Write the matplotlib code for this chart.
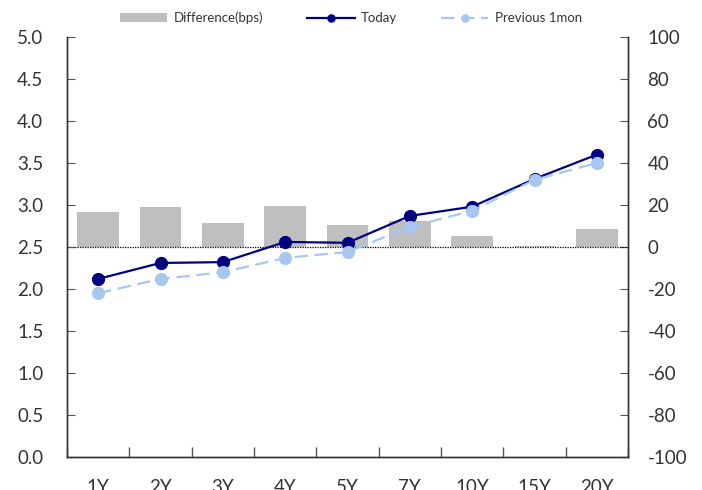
import numpy as np
import matplotlib
matplotlib.use("Agg")
import matplotlib.pyplot as plt

plt.rcParams["font.family"] = ["Lato", "DejaVu Sans"]
plt.rcParams["axes.unicode_minus"] = False

tenors = ["1Y", "2Y", "3Y", "4Y", "5Y", "7Y", "10Y", "15Y", "20Y"]
today = [2.12, 2.31, 2.32, 2.56, 2.55, 2.87, 2.98, 3.31, 3.60]
prev_1mon = [1.95, 2.12, 2.20, 2.37, 2.44, 2.74, 2.93, 3.30, 3.50]
diff_bps = [16.7, 19.0, 11.5, 19.5, 10.5, 12.5, 5.2, 0.5, 8.8]

x = np.arange(len(tenors))

fig = plt.figure(figsize=(7.02, 4.90), dpi=100)
ax = fig.add_axes([67 / 702, 33 / 490, 561 / 702, 420 / 490])
axr = ax.twinx()

# bars on the right (bps) axis, lines drawn above them
bars = axr.bar(x, diff_bps, width=0.67, color="#bfbfbf", label="Difference(bps)")
axr.axhline(0, color="black", lw=0.9, ls=(0, (1, 1)))
axr.set_ylim(-100, 100)
axr.set_yticks(np.arange(-100, 101, 20))

ax.set_zorder(axr.get_zorder() + 1)
ax.patch.set_visible(False)

l1, = ax.plot(x, today, color="#000080", lw=1.6, marker="o", ms=8.5, label="Today")
l2, = ax.plot(x, prev_1mon, color="#a6c8f0", lw=1.6, ls=(0, (6, 3)), marker="o", ms=8.5,
              label="Previous 1mon")

ax.set_ylim(0, 5)
ax.set_yticks(np.arange(0, 5.01, 0.5))
ax.set_yticklabels([f"{v:.1f}" for v in np.arange(0, 5.01, 0.5)])
ax.set_xlim(-0.5, len(tenors) - 0.5)

# category ticks at boundaries, labels at centres
ax.set_xticks(np.arange(-0.5, len(tenors), 1))
ax.set_xticklabels([])
ax.set_xticks(x, minor=True)
ax.set_xticklabels(tenors, minor=True)
ax.tick_params(axis="x", which="major", direction="in", length=7, width=1, color="#555555")
ax.tick_params(axis="x", which="minor", length=0, pad=16, labelsize=13.5, labelcolor="#333333")
ax.tick_params(axis="y", direction="in", length=6, color="#555555", labelsize=13.5,
               labelcolor="#333333", pad=17)
axr.tick_params(axis="y", direction="in", length=6, color="#555555", labelsize=13.5,
                labelcolor="#333333", pad=14)

for a in (ax, axr):
    a.spines["top"].set_visible(False)
    for s in ("left", "right", "bottom"):
        a.spines[s].set_color("#333333")
        a.spines[s].set_linewidth(1.0)

fig.legend(handles=[bars, l1, l2], loc="center", bbox_to_anchor=(0.5, 0.963), ncol=3,
           frameon=False, fontsize=9.5, handlelength=3.6, columnspacing=3.3,
           handletextpad=0.5, markerscale=0.6, labelcolor="#333333")

fig.savefig("out.png", dpi=100)
